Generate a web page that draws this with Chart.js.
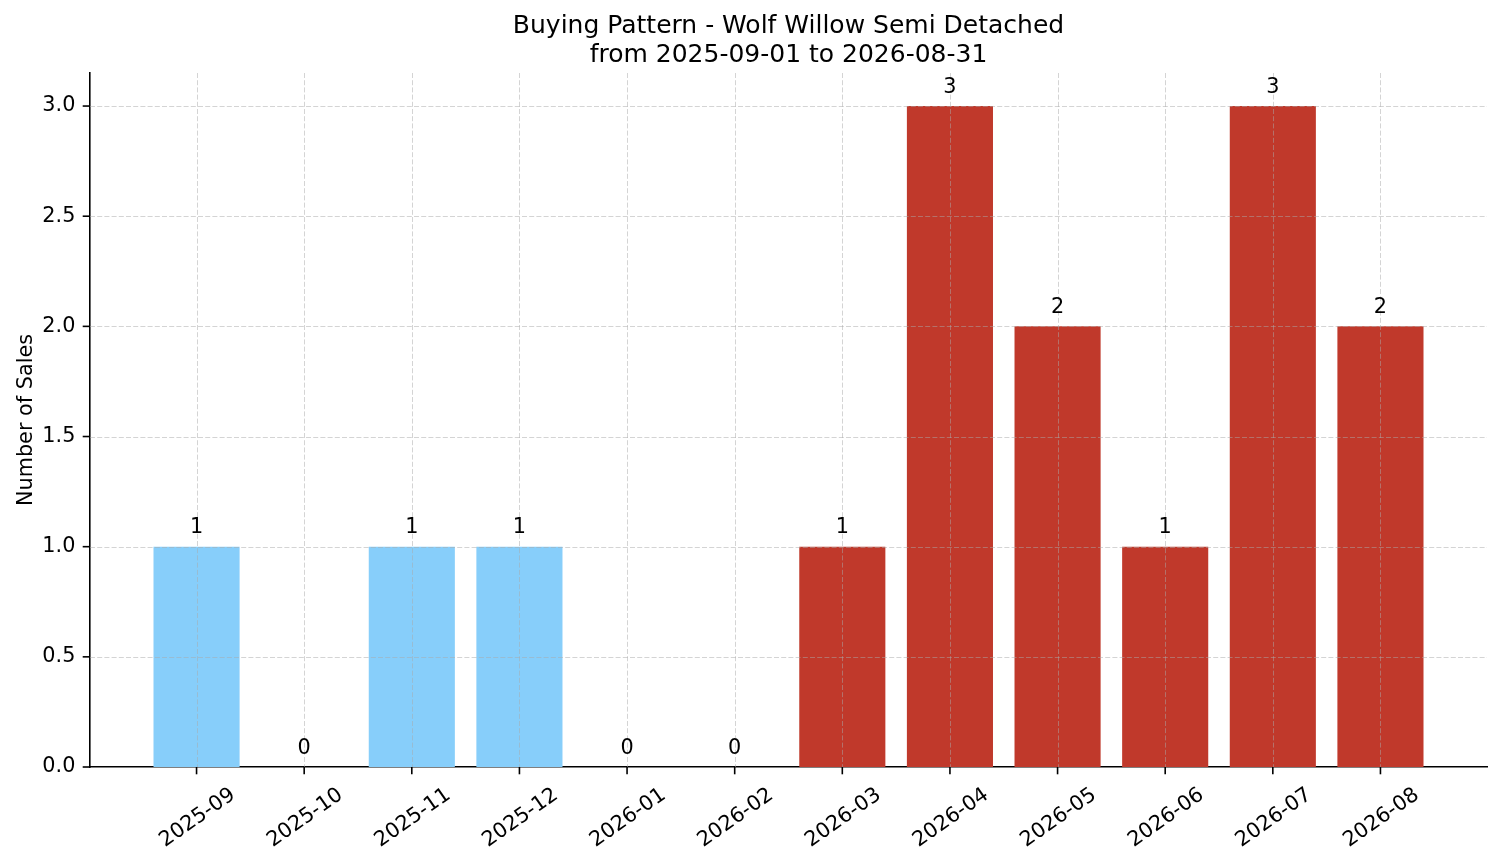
<!DOCTYPE html>
<html><head><meta charset="utf-8">
<script src="https://cdn.jsdelivr.net/npm/chart.js@4.4.1/dist/chart.umd.min.js"></script>
<style>html,body{margin:0;padding:0;background:#fff;overflow:hidden}</style>
</head><body>
<canvas id="c" width="1501" height="863" style="display:block"></canvas>
<script>
// ---- data ----
const months = ['2025-09','2025-10','2025-11','2025-12','2026-01','2026-02','2026-03','2026-04','2026-05','2026-06','2026-07','2026-08'];
const sales = [1, 0, 1, 1, 0, 0, 1, 3, 2, 1, 3, 2];
const titleLines = ['Buying Pattern - Wolf Willow Semi Detached', 'from 2025-09-01 to 2026-08-31'];
const yAxisLabel = 'Number of Sales';

// ---- styles ----
const BLUE = '#87CEFA', RED = '#C0392B';
const barColors = months.map((m, i) => (i < 6 ? BLUE : RED));
const FONT = "'DejaVu Sans', sans-serif";
const FS = 20.8;

const overlay = {
  id: 'overlay',
  afterDatasetsDraw(chart) {
    const { ctx, chartArea: a, scales: { x, y } } = chart;
    ctx.save();
    // grid (drawn above bars like matplotlib)
    ctx.strokeStyle = 'rgba(170,170,170,0.5)';
    ctx.lineWidth = 1;
    ctx.setLineDash([5, 2.2]);
    months.forEach((m, i) => {
      const px = Math.round(x.getPixelForValue(i)) + 0.5;
      ctx.beginPath(); ctx.moveTo(px, a.top); ctx.lineTo(px, a.bottom); ctx.stroke();
    });
    y.ticks.forEach(t => {
      if (t.value === 0) return;
      const py = Math.round(y.getPixelForValue(t.value)) + 0.5;
      ctx.beginPath(); ctx.moveTo(a.left, py); ctx.lineTo(a.right, py); ctx.stroke();
    });
    ctx.setLineDash([]);
    // tick marks
    ctx.strokeStyle = '#000';
    ctx.lineWidth = 1.6;
    months.forEach((m, i) => {
      const px = x.getPixelForValue(i);
      ctx.beginPath(); ctx.moveTo(px, a.bottom); ctx.lineTo(px, a.bottom + 7.3); ctx.stroke();
    });
    y.ticks.forEach(t => {
      const py = y.getPixelForValue(t.value);
      ctx.beginPath(); ctx.moveTo(a.left - 7.3, py); ctx.lineTo(a.left, py); ctx.stroke();
    });
    // bar value labels
    ctx.fillStyle = '#000';
    ctx.font = FS + 'px ' + FONT;
    ctx.textAlign = 'center';
    ctx.textBaseline = 'alphabetic';
    sales.forEach((v, i) => {
      ctx.fillText(String(v), x.getPixelForValue(i), y.getPixelForValue(v) - 13.5);
    });
    // rotated x tick labels, centred on the tick
    const th = 35 * Math.PI / 180;
    months.forEach((m, i) => {
      const w = ctx.measureText(m).width;
      const h = 1.164 * FS;
      const H = w * Math.sin(th) + h * Math.cos(th);
      const cx = x.getPixelForValue(i);
      const cy = a.bottom + 14.6 + H / 2;
      ctx.save();
      ctx.translate(cx, cy);
      ctx.rotate(-th);
      ctx.fillText(m, 0, 0.346 * FS);
      ctx.restore();
    });
    // y axis label
    ctx.save();
    ctx.translate(31.5, (a.top + a.bottom) / 2);
    ctx.rotate(-Math.PI / 2);
    ctx.fillText(yAxisLabel, 0, 0);
    ctx.restore();
    // title
    ctx.font = '25px ' + FONT;
    const tx = (a.left + a.right) / 2;
    ctx.fillText(titleLines[0], tx, 33);
    ctx.fillText(titleLines[1], tx, 61.5);
    ctx.restore();
  }
};

new Chart(document.getElementById('c'), {
  type: 'bar',
  data: {
    datasets: [{
      data: sales.map((v, i) => ({ x: i, y: v })),
      backgroundColor: barColors,
      borderWidth: 0,
      categoryPercentage: 0.8,
      barPercentage: 1.0
    }]
  },
  options: {
    responsive: false,
    animation: false,
    devicePixelRatio: 1,
    layout: { padding: { top: 73, right: 14, left: 0, bottom: 0 } },
    plugins: { legend: { display: false }, title: { display: false }, tooltip: { enabled: false } },
    scales: {
      x: {
        type: 'linear',
        offset: false,
        min: -0.99,
        max: 11.99,
        grid: { display: false, drawTicks: false, offset: false },
        border: { display: true, color: '#000', width: 1.6 },
        ticks: { display: false, stepSize: 1, includeBounds: false },
        afterFit(s) { s.height = 96; }
      },
      y: {
        min: 0,
        max: 3.15,
        grid: { display: false, drawTicks: false },
        border: { display: true, color: '#000', width: 1.6 },
        ticks: {
          stepSize: 0.5,
          includeBounds: false,
          padding: 14.6,
          color: '#000',
          font: { family: FONT, size: FS },
          callback: v => Number(v).toFixed(1)
        },
        afterFit(s) { s.width = 90; }
      }
    }
  },
  plugins: [overlay]
});
</script>
</body></html>
